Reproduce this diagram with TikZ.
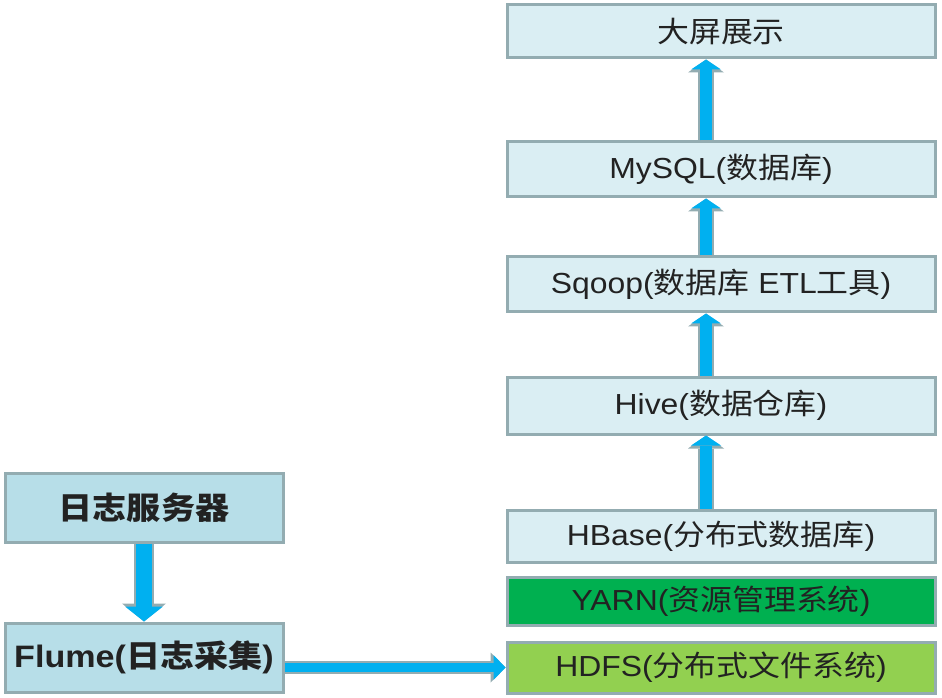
\documentclass[tikz,border=0pt]{standalone}
\usepackage{fontspec}
\setmainfont{Liberation Sans}[FakeStretch=1.1]
\newfontfamily\zhfont{Noto Sans CJK SC}[FakeStretch=1.1]
\newcommand{\zh}[1]{{\zhfont #1}}
\usepackage{tikz}
\usetikzlibrary{
	positioning,
	arrows.meta
}
\definecolor{boxedge}{HTML}{93ACB1}
\definecolor{paleblue}{HTML}{DAEEF3}
\definecolor{sourceblue}{HTML}{B7DEE8}
\definecolor{yarngreen}{HTML}{00B050}
\definecolor{hdfsgreen}{HTML}{92D050}
\definecolor{arrowblue}{HTML}{00B0F0}
\definecolor{textgray}{HTML}{222222}

\begin{document}
\begin{tikzpicture}[
		x=1pt, y=1pt,
		node distance=15pt,
		layer/.style={draw=boxedge, line width=3pt, fill=paleblue,
			minimum width=428pt, minimum height=54pt, inner sep=0pt,
			text=textgray, font=\fontsize{29}{34}\selectfont},
		source/.style={layer, fill=sourceblue, minimum width=278pt,
			minimum height=69pt, font=\fontsize{31}{36}\selectfont\bfseries},
		flow/.style={draw=arrowblue, line width=12pt,
			-{Triangle[width=30pt, length=10pt, line width=0pt]},
			preaction={draw=boxedge, line width=16pt,
				-{Triangle[width=36pt, length=13pt, line width=0pt]}}},
		flowwide/.style={draw=arrowblue, line width=16pt,
			-{Triangle[width=38pt, length=15pt, line width=0pt]},
			preaction={draw=boxedge, line width=20pt,
				-{Triangle[width=44pt, length=18pt, line width=0pt]}}},
		flowthin/.style={draw=arrowblue, line width=9pt,
			-{Triangle[width=25pt, length=12pt, line width=0pt]},
			preaction={draw=boxedge, line width=13pt,
				-{Triangle[width=30pt, length=15pt, line width=0pt]}}}
		]
		
		\useasboundingbox (0,0) rectangle (942,697);
		
		% storage and compute stack
		\node[layer, fill=hdfsgreen, minimum height=51pt] (hdfs) at (721,29.5)
			{HDFS(\zh{分布式文件系统})};
		\node[layer, fill=yarngreen, minimum height=48pt, above=14pt of hdfs] (yarn)
			{YARN(\zh{资源管理系统})};
		\node[layer, minimum height=52pt, above=12pt of yarn] (hbase)
			{HBase(\zh{分布式数据库})};
		\node[layer, minimum height=57pt, above=73pt of hbase] (hive)
			{Hive(\zh{数据仓库})};
		\node[layer, minimum height=55pt, above=62pt of hive] (sqoop)
			{Sqoop(\zh{数据库} ETL\zh{工具})};
		\node[layer, minimum height=55pt, above=57pt of sqoop] (mysql)
			{MySQL(\zh{数据库})};
		\node[layer, minimum height=53pt, above=81pt of mysql] (screen)
			{\zh{大屏展示}};
		
		\path ([xshift=-15pt]hbase.north) edge[flow] ([xshift=-15pt]hive.south);
		\path ([xshift=-15pt]hive.north) edge[flow] ([xshift=-15pt]sqoop.south);
		\path ([xshift=-15pt]sqoop.north) edge[flow] ([xshift=-15pt]mysql.south);
		\path ([xshift=-15pt]mysql.north) edge[flow] ([xshift=-15pt]screen.south);
		
		% log collection
		\node[source] (flume) at (144,39.5) {Flume(\zh{日志采集})};
		\node[source, above=78pt of flume] (server) {\zh{日志服务器}};
		
		\path (server) edge[flowwide] (flume);
		\path (flume.east |- hdfs.west) edge[flowthin] (hdfs.west);
		
	\end{tikzpicture}
\end{document}
